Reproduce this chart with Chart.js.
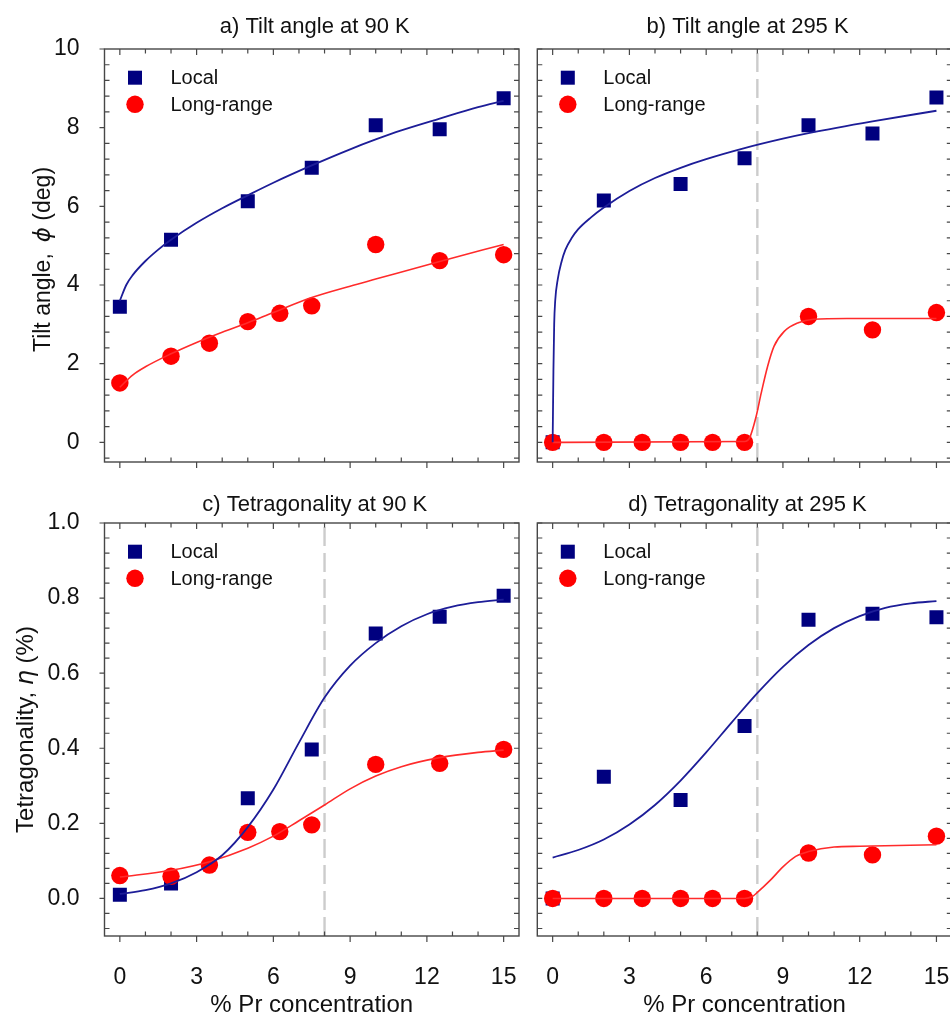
<!DOCTYPE html>
<html>
<head>
<meta charset="utf-8">
<title>Tilt angle and tetragonality vs Pr concentration</title>
<script src="https://cdn.jsdelivr.net/npm/chart.js@4.4.1/dist/chart.umd.min.js"></script>
<style>
  html, body { margin: 0; padding: 0; background: #fff; overflow: hidden; }
  #wrap { position: relative; width: 950px; height: 1017px; overflow: hidden; }
  canvas { position: absolute; }
</style>
</head>
<body>
<div id="wrap">
  <canvas id="tilt90" width="520" height="480" style="left:0;top:0"></canvas>
  <canvas id="tilt295" width="436" height="480" style="left:520px;top:0"></canvas>
  <canvas id="tet90" width="520" height="537" style="left:0;top:480px"></canvas>
  <canvas id="tet295" width="436" height="537" style="left:520px;top:480px"></canvas>
</div>
<script>
// % Pr concentration of the samples
const concLocal = [0, 2, 5, 7.5, 10, 12.5, 15];
const concLong = [0, 2, 3.5, 5, 6.25, 7.5, 10, 12.5, 15];

// tilt angle phi (deg)
const tilt90Local = [3.45, 5.15, 6.13, 6.98, 8.06, 7.96, 8.75];
const tilt90Long = [1.51, 2.19, 2.52, 3.07, 3.28, 3.47, 5.03, 4.62, 4.77];
const tilt295Local = [0, 6.15, 6.57, 7.22, 8.06, 7.85, 8.77];
const tilt295Long = [0, 0, 0, 0, 0, 0, 3.2, 2.86, 3.3];

// tetragonality eta (%)
const tet90Local = [0.01, 0.04, 0.267, 0.397, 0.706, 0.75, 0.806];
const tet90Long = [0.061, 0.059, 0.089, 0.176, 0.178, 0.196, 0.357, 0.36, 0.397];
const tet295Local = [0, 0.324, 0.262, 0.459, 0.742, 0.758, 0.749];
const tet295Long = [0, 0, 0, 0, 0, 0, 0.121, 0.116, 0.166];

// fitted curves
const tilt90LocalFitX = [0, 0.25, 0.5, 1, 1.5, 2, 3, 4, 5, 6, 7.5, 9, 10, 11, 12.5, 14, 15];
const tilt90LocalFitY = [3.6, 4.0, 4.25, 4.61, 4.9, 5.15, 5.58, 5.95, 6.28, 6.6, 7.04, 7.45, 7.7, 7.93, 8.23, 8.52, 8.68];
const tilt90LongFitX = [0, 0.5, 1, 2, 3, 4, 5, 6, 7.5, 9, 10, 12.5, 15];
const tilt90LongFitY = [1.4, 1.71, 1.92, 2.25, 2.54, 2.8, 3.04, 3.3, 3.68, 3.97, 4.15, 4.6, 5.03];

const tilt295LocalFitX = [0, 0.01, 0.03, 0.06, 0.1, 0.2, 0.35, 0.5, 0.75, 1, 1.5, 2, 3, 4, 5, 6, 7.5, 9, 10, 12.5, 15];
const tilt295LocalFitY = [0, 0.6, 1.8, 3.0, 3.6, 4.15, 4.6, 4.9, 5.2, 5.42, 5.72, 5.97, 6.39, 6.72, 6.98, 7.2, 7.48, 7.72, 7.86, 8.16, 8.43];
const tilt295LongFitX = [0, 7.5, 7.7, 7.95, 8.15, 8.4, 8.65, 9.05, 9.6, 10.2, 11.5, 15];
const tilt295LongFitY = [0, 0.02, 0.12, 0.65, 1.25, 1.93, 2.44, 2.82, 3.04, 3.13, 3.15, 3.15];

const tet90LocalFitX = [0, 1, 2, 3, 4, 5, 6, 7, 8, 9, 10, 11, 12, 13, 14, 15];
const tet90LocalFitY = [0.012, 0.022, 0.04, 0.07, 0.115, 0.19, 0.29, 0.415, 0.535, 0.62, 0.68, 0.725, 0.757, 0.777, 0.789, 0.796];
const tet90LongFitX = [0, 2, 3.5, 5, 6, 7, 8, 9, 10, 11, 12.5, 14, 15];
const tet90LongFitY = [0.057, 0.075, 0.098, 0.134, 0.166, 0.207, 0.249, 0.292, 0.326, 0.351, 0.375, 0.389, 0.395];

const tet295LocalFitX = [0, 1, 2, 3, 4, 5, 6, 7, 8, 9, 10, 11, 12, 13, 14, 15];
const tet295LocalFitY = [0.109, 0.129, 0.157, 0.197, 0.249, 0.314, 0.389, 0.469, 0.547, 0.617, 0.675, 0.72, 0.752, 0.774, 0.786, 0.792];
const tet295LongFitX = [0, 7.5, 7.8, 8, 8.5, 9, 9.5, 10, 11, 12, 15];
const tet295LongFitY = [0, 0, 0.005, 0.016, 0.048, 0.084, 0.112, 0.125, 0.137, 0.139, 0.143];

// dashed marker of the transition concentration
const boundaryConc = 8;

// axis ticks
const concTicks = [0, 3, 6, 9, 12, 15];
const tiltTicks = [0, 2, 4, 6, 8, 10];
const tetTicks = [0, 0.2, 0.4, 0.6, 0.8, 1.0];

const FONT = "'Liberation Sans', Arial, Helvetica, sans-serif";
const NAVY = '#00007f';
const RED = '#ff0000';

function pts(xs, ys) {
  return xs.map((x, i) => ({ x: x, y: ys[i] }));
}

function drawParts(ctx, parts, x, y, size) {
  // parts: [text, italic?]; drawn centred on x, baseline at y
  let total = 0;
  parts.forEach(p => {
    ctx.font = p[1] ? `italic ${size}px 'DejaVu Sans', sans-serif` : `${size}px ${FONT}`;
    total += ctx.measureText(p[0]).width;
  });
  let cx = x - total / 2;
  parts.forEach(p => {
    ctx.font = p[1] ? `italic ${size}px 'DejaVu Sans', sans-serif` : `${size}px ${FONT}`;
    ctx.fillText(p[0], cx, y);
    cx += ctx.measureText(p[0]).width;
  });
}

// frame, tick marks, legend and titles
const panelDecor = {
  id: 'panelDecor',
  afterDraw(chart, args, o) {
    const { ctx, chartArea: a, scales: { x, y } } = chart;
    ctx.save();

    ctx.strokeStyle = '#474747';
    ctx.lineWidth = 1.2;
    ctx.beginPath();
    const steps = (scale, minor, major, fn) => {
      for (let i = Math.ceil(scale.min / minor - 1e-6); i * minor <= scale.max + 1e-6; i++) {
        const v = i * minor;
        const isMajor = Math.abs(v / major - Math.round(v / major)) < 1e-6;
        fn(scale.getPixelForValue(v), isMajor);
      }
    };
    steps(x, 1, 3, (px, major) => {
      // bottom: majors out, minors in
      if (major) { ctx.moveTo(px, a.bottom); ctx.lineTo(px, a.bottom + 6); }
      else { ctx.moveTo(px, a.bottom); ctx.lineTo(px, a.bottom - 4.5); }
      ctx.moveTo(px, a.top); ctx.lineTo(px, a.top + (major ? 6 : 4.5));
    });
    steps(y, o.yMinor, o.yMajor, (py, major) => {
      if (major && o.leftOut) { ctx.moveTo(a.left, py); ctx.lineTo(a.left - 5, py); }
      else { ctx.moveTo(a.left, py); ctx.lineTo(a.left + 5, py); }
      ctx.moveTo(a.right, py); ctx.lineTo(a.right - 5, py);
    });
    ctx.stroke();

    ctx.lineWidth = 1.4;
    ctx.strokeRect(a.left, a.top, a.right - a.left, a.bottom - a.top);

    // legend
    const lx = a.left + 30.5;
    ctx.fillStyle = NAVY;
    ctx.fillRect(lx - 7, a.top + 28.7 - 7, 14, 14);
    ctx.fillStyle = RED;
    ctx.beginPath();
    ctx.arc(lx, a.top + 55.3, 8.7, 0, Math.PI * 2);
    ctx.fill();
    ctx.fillStyle = '#111';
    ctx.font = `20px ${FONT}`;
    ctx.textBaseline = 'middle';
    ctx.textAlign = 'left';
    ctx.fillText('Local', a.left + 66, a.top + 29);
    ctx.fillText('Long-range', a.left + 66, a.top + 56);

    // panel title
    ctx.textBaseline = 'alphabetic';
    ctx.font = `22px ${FONT}`;
    ctx.textAlign = 'center';
    ctx.fillText(o.title, (a.left + a.right) / 2 + 3, a.top - o.titleGap);
    ctx.textAlign = 'left';

    // axis titles
    if (o.xTitle) {
      drawParts(ctx, [[o.xTitle, false]], (a.left + a.right) / 2, o.xTitleY, 24);
    }
    if (o.yTitle) {
      ctx.save();
      ctx.translate(o.yTitleX, (a.top + a.bottom) / 2 + (o.yTitleShift || 0));
      ctx.rotate(-Math.PI / 2);
      drawParts(ctx, o.yTitle, 0, 0, o.yTitleSize || 24);
      ctx.restore();
    }
    ctx.restore();
  }
};

function panel(id, o) {
  const datasets = [
    {
      type: 'line', data: pts(o.localFitX, o.localFitY),
      borderColor: '#1d1d98', borderWidth: 1.8, pointRadius: 0,
      cubicInterpolationMode: 'monotone', fill: false
    },
    {
      type: 'line', data: pts(o.longFitX, o.longFitY),
      borderColor: '#ff2b2b', borderWidth: 1.6, pointRadius: 0,
      cubicInterpolationMode: 'monotone', fill: false
    },
    {
      label: 'Long-range', data: pts(concLong, o.long),
      pointStyle: 'circle', pointRadius: 8.7, pointHoverRadius: 8.7,
      pointBackgroundColor: RED, pointBorderWidth: 0
    },
    {
      label: 'Local', data: pts(concLocal, o.local),
      pointStyle: 'rect', pointRadius: 9.9, pointHoverRadius: 9.9,
      pointBackgroundColor: NAVY, pointBorderWidth: 0
    }
  ];
  if (o.boundary) {
    datasets.push({
      type: 'line', data: [{ x: boundaryConc, y: o.yMin }, { x: boundaryConc, y: o.yMax }],
      borderColor: '#cccccc', borderWidth: 2.4, borderDash: [19, 7], pointRadius: 0, fill: false
    });
  }

  return new Chart(document.getElementById(id), {
    type: 'scatter',
    data: { datasets: datasets },
    options: {
      responsive: false,
      animation: false,
      events: [],
      layout: { autoPadding: false, padding: o.padding },
      scales: {
        x: {
          type: 'linear', min: -0.6, max: 15.6,
          grid: { display: false }, border: { display: false },
          afterBuildTicks: s => { s.ticks = concTicks.map(v => ({ value: v })); },
          afterFit: s => { s.height = o.xHeight; s.paddingLeft = 0; s.paddingRight = 0; },
          ticks: {
            display: o.xLabels, padding: 20, maxRotation: 0, autoSkip: false,
            color: '#111', font: { family: FONT, size: 23 }
          }
        },
        y: {
          type: 'linear', min: o.yMin, max: o.yMax,
          grid: { display: false }, border: { display: false },
          afterBuildTicks: s => { s.ticks = o.yTicks.map(v => ({ value: v })); },
          afterFit: s => { s.width = o.yWidth; s.paddingTop = 0; s.paddingBottom = 0; },
          ticks: {
            display: o.yLabels, padding: 17, autoSkip: false,
            color: '#111', font: { family: FONT, size: 23 },
            callback: v => v.toFixed(o.yDigits)
          }
        }
      },
      plugins: {
        legend: { display: false },
        tooltip: { enabled: false },
        panelDecor: o.decor
      }
    },
    plugins: [panelDecor]
  });
}

panel('tilt90', {
  local: tilt90Local, long: tilt90Long,
  localFitX: tilt90LocalFitX, localFitY: tilt90LocalFitY,
  longFitX: tilt90LongFitX, longFitY: tilt90LongFitY,
  boundary: false, yMin: -0.5, yMax: 10, yTicks: tiltTicks, yDigits: 0,
  padding: { left: 0, top: 49, right: 1, bottom: 18 },
  xHeight: 0, yWidth: 104.5, xLabels: false, yLabels: true,
  decor: {
    title: 'a) Tilt angle at 90 K', titleGap: 16, yMinor: 0.4, yMajor: 2, leftOut: true,
    yTitle: [['Tilt angle, \u2009', false], ['\u03D5', true], [' (deg)', false]],
    yTitleX: 50, yTitleSize: 23, yTitleShift: 4
  }
});

panel('tilt295', {
  local: tilt295Local, long: tilt295Long,
  localFitX: tilt295LocalFitX, localFitY: tilt295LocalFitY,
  longFitX: tilt295LongFitX, longFitY: tilt295LongFitY,
  boundary: true, yMin: -0.5, yMax: 10, yTicks: tiltTicks, yDigits: 0,
  padding: { left: 17.3, top: 49, right: 4.2, bottom: 18 },
  xHeight: 0, yWidth: 0, xLabels: false, yLabels: false,
  decor: { title: 'b) Tilt angle at 295 K', titleGap: 16, yMinor: 0.4, yMajor: 2, leftOut: false }
});

panel('tet90', {
  local: tet90Local, long: tet90Long,
  localFitX: tet90LocalFitX, localFitY: tet90LocalFitY,
  longFitX: tet90LongFitX, longFitY: tet90LongFitY,
  boundary: true, yMin: -0.1, yMax: 1.0, yTicks: tetTicks, yDigits: 1,
  padding: { left: 0, top: 43, right: 1, bottom: 0 },
  xHeight: 81, yWidth: 104.5, xLabels: true, yLabels: true,
  decor: {
    title: 'c) Tetragonality at 90 K', titleGap: 12, yMinor: 0.04, yMajor: 0.2, leftOut: true,
    yTitle: [['Tetragonality, ', false], ['\u03B7', true], [' (%)', false]], yTitleX: 33,
    xTitle: '% Pr concentration', xTitleY: 532
  }
});

panel('tet295', {
  local: tet295Local, long: tet295Long,
  localFitX: tet295LocalFitX, localFitY: tet295LocalFitY,
  longFitX: tet295LongFitX, longFitY: tet295LongFitY,
  boundary: true, yMin: -0.1, yMax: 1.0, yTicks: tetTicks, yDigits: 1,
  padding: { left: 17.3, top: 43, right: 4.2, bottom: 0 },
  xHeight: 81, yWidth: 0, xLabels: true, yLabels: false,
  decor: {
    title: 'd) Tetragonality at 295 K', titleGap: 12, yMinor: 0.04, yMajor: 0.2, leftOut: false,
    xTitle: '% Pr concentration', xTitleY: 532
  }
});
</script>
</body>
</html>
